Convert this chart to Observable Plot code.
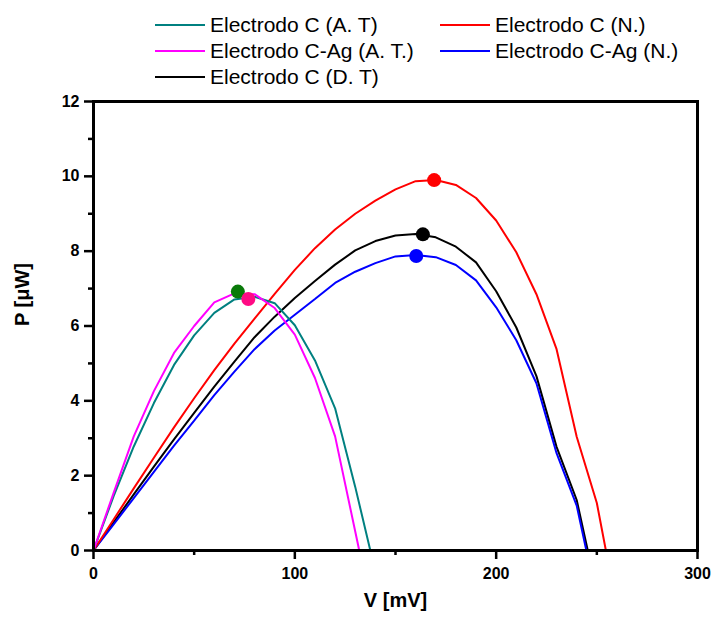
<!DOCTYPE html>
<html>
<head>
<meta charset="utf-8">
<script src="https://cdn.jsdelivr.net/npm/d3@7"></script>
<script src="https://cdn.jsdelivr.net/npm/@observablehq/plot@0.6"></script>
<style>
  html, body { margin: 0; padding: 0; background: #fff; }
  #wrap { position: relative; width: 713px; height: 617px; font-family: "Liberation Sans", Arial, sans-serif; }
  #wrap svg { position: absolute; left: 0; top: 0; }
  .leg { position: absolute; display: flex; align-items: center; height: 26px; font-size: 21px; color: #000; white-space: nowrap; }
  .leg .sw { display: inline-block; width: 50px; height: 2.5px; margin-right: 5px; }
</style>
</head>
<body>
<div id="wrap"></div>
<script>
// ---- data ----
const seriesNames = ["Electrodo C (A. T)", "Electrodo C (N.)", "Electrodo C-Ag (A. T.)", "Electrodo C-Ag (N.)", "Electrodo C (D. T)"];
const seriesColors = ["#008080", "#ff0000", "#ff00ff", "#0000ff", "#000000"];

const vC_AT = [0,10,20,30,40,50,60,70,80,90,100,110,120,130,137.5];
const pC_AT = [0,1.45,2.78,3.94,4.96,5.75,6.35,6.71,6.78,6.61,6.02,5.08,3.8,1.7,0];

const vCAg_AT = [0,10,20,30,40,50,60,70,80,90,100,110,120,132];
const pCAg_AT = [0,1.54,3.05,4.26,5.28,6.0,6.63,6.87,6.85,6.48,5.77,4.61,3.05,0];

const vC_N = [0,10,20,30,40,50,60,70,80,90,100,110,120,130,140,150,160,170,180,190,200,210,220,230,240,250,254.5];
const pC_N = [0,0.83,1.66,2.48,3.29,4.07,4.82,5.53,6.2,6.86,7.5,8.08,8.58,9.0,9.35,9.65,9.87,9.9,9.77,9.42,8.82,7.97,6.85,5.38,3.04,1.27,0];

const vC_DT = [0,10,20,30,40,50,60,70,80,90,100,110,120,130,140,150,160,170,180,190,200,210,220,230,240,245.5];
const pC_DT = [0,0.75,1.5,2.24,2.97,3.68,4.38,5.05,5.7,6.25,6.75,7.2,7.64,8.02,8.27,8.42,8.46,8.37,8.12,7.7,6.93,5.96,4.66,2.77,1.35,0];

const vCAg_N = [0,10,20,30,40,50,60,70,80,90,100,110,120,130,140,150,160,170,180,190,200,210,220,230,240,244.8];
const pCAg_N = [0,0.7,1.4,2.1,2.8,3.47,4.15,4.78,5.38,5.88,6.3,6.72,7.15,7.45,7.68,7.86,7.9,7.84,7.63,7.22,6.5,5.62,4.47,2.6,1.2,0];

// maximum power points
const maxV = [71.7, 76.9, 169.2, 160.3, 163.6];
const maxP = [6.92, 6.72, 9.9, 7.87, 8.45];
const maxColors = ["#0a7a0a", "#ff0a84", "#ff0000", "#0000ff", "#000000"];

const xMajor = [0, 100, 200, 300];
const xMinor = [50, 150, 250];
const yMajor = [0, 2, 4, 6, 8, 10, 12];
const yMinor = [1, 3, 5, 7, 9, 11];

// ---- build table ----
function rows(name, vs, ps) { return vs.map((v, i) => ({series: name, v, p: ps[i]})); }
const lineData = [
  ...rows(seriesNames[4], vC_DT, pC_DT),
  ...rows(seriesNames[3], vCAg_N, pCAg_N),
  ...rows(seriesNames[1], vC_N, pC_N),
  ...rows(seriesNames[0], vC_AT, pC_AT),
  ...rows(seriesNames[2], vCAg_AT, pCAg_AT)
];
const dots = maxV.map((v, i) => ({v, p: maxP[i], c: maxColors[i]}));

const chart = Plot.plot({
  width: 713,
  height: 617,
  marginLeft: 93,
  marginRight: 16,
  marginTop: 101,
  marginBottom: 67,
  style: {fontFamily: "'Liberation Sans', Arial, sans-serif", background: "white", overflow: "visible"},
  x: {domain: [0, 300]},
  y: {domain: [0, 12]},
  color: {domain: seriesNames, range: seriesColors},
  marks: [
    Plot.line(lineData, {x: "v", y: "p", z: "series", stroke: "series", strokeWidth: 2, strokeLinejoin: "miter"}),
    Plot.dot(dots, {x: "v", y: "p", fill: "c", r: 7}),
    Plot.frame({stroke: "black", strokeWidth: 3}),
    Plot.axisX({ticks: xMajor, tickSize: 9, tickPadding: 8, strokeWidth: 2.5, fontSize: 16, fontWeight: "bold", label: null}),
    Plot.axisX({ticks: xMinor, tickSize: 5, strokeWidth: 2.5, text: null, label: null}),
    Plot.axisY({ticks: yMajor, tickSize: 9, tickPadding: 5, strokeWidth: 2.5, fontSize: 16, fontWeight: "bold", label: null}),
    Plot.axisY({ticks: yMinor, tickSize: 5, strokeWidth: 2.5, text: null, label: null}),
    Plot.text(["V [mV]"], {frameAnchor: "bottom", dy: 56, fontSize: 20, fontWeight: "bold", fill: "black"}),
    Plot.text(["P [\u03BCW]"], {frameAnchor: "left", dx: -71, rotate: -90, fontSize: 20, fontWeight: "bold", fill: "black"})
  ]
});

const wrap = document.getElementById("wrap");
wrap.appendChild(chart);

// legend (two columns)
const legendPos = [
  [0, 0], [1, 0],
  [0, 1], [1, 1],
  [0, 2]
];
const colX = [155, 440];
const rowY = [12, 38, 64];
seriesNames.forEach((name, i) => {
  const [c, r] = legendPos[i];
  const d = document.createElement("div");
  d.className = "leg";
  d.style.left = colX[c] + "px";
  d.style.top = rowY[r] + "px";
  const sw = document.createElement("span");
  sw.className = "sw";
  sw.style.background = seriesColors[i];
  const t = document.createElement("span");
  t.textContent = name;
  d.appendChild(sw);
  d.appendChild(t);
  wrap.appendChild(d);
});
</script>
</body>
</html>
